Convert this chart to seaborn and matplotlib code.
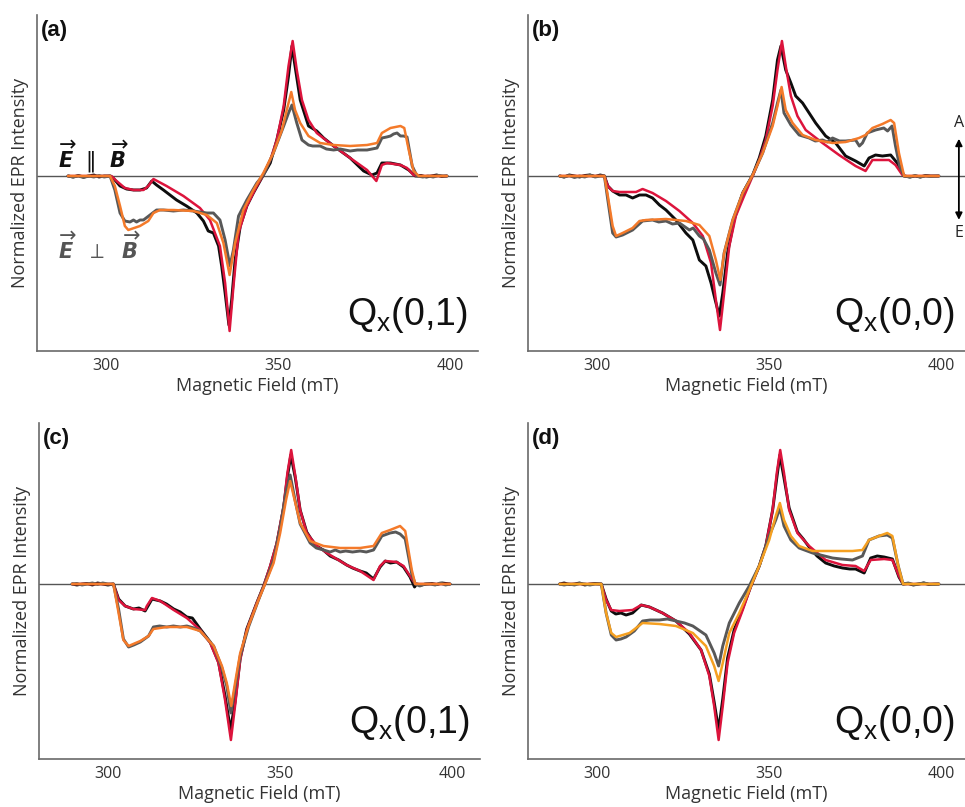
import numpy as np
import matplotlib
matplotlib.use('Agg')
import matplotlib.pyplot as plt
import seaborn as sns

sns.set_style('white')
plt.rcParams['font.family'] = ['Open Sans', 'DejaVu Sans']
plt.rcParams['mathtext.fontset'] = 'dejavusans'

# ---------------- data: (field mT, normalized intensity) ----------------
# Panel (a)  Qx(0,1)
a_exp_par = [(289.0,0.0),(290.5,-0.01),(292,0.005),(293.5,-0.01),(295,0.0),(296.5,0.01),(298,-0.01),(299.5,0.0),
             (301.2,0.0),(302.1,-0.02),(304.1,-0.10),(306.0,-0.13),(308.0,-0.14),(309.9,-0.14),(311.8,-0.12),(313.3,-0.05),
             (314.7,-0.09),(316.7,-0.14),(318.6,-0.19),(320.5,-0.24),(323.4,-0.30),(326.4,-0.37),(328.3,-0.45),(329.7,-0.55),
             (331.2,-0.57),(332.7,-0.70),(333.6,-0.90),(334.6,-1.17),(335.7,-1.49),(336.5,-1.24),(337.5,-0.84),(339.0,-0.50),
             (340.9,-0.30),(342.8,-0.17),(345.7,0.01),(347.7,0.13),(349.6,0.36),(351.6,0.66),(353.0,1.0),(354.0,1.30),
             (355.2,1.03),(356.4,0.76),(358.8,0.50),(361.2,0.45),(363.2,0.38),(366.1,0.30),(370.9,0.18),(374.8,0.05),
             (377.2,0.01),(378.7,0.03),(380.1,0.13),(382.6,0.13),(385.5,0.11),(387.9,0.06),(389.8,0.0),(391.5,0.005),
             (393,-0.01),(394.5,0.0),(396,0.01),(397.5,-0.005),(399,0.0)]
a_sim_par = [(289.0,0),(301.6,0),(303.1,-0.05),(305.5,-0.12),(308.0,-0.14),(310.9,-0.14),(312.3,-0.10),(313.8,-0.03),
             (317.6,-0.10),(322.5,-0.20),(327.3,-0.32),(330.2,-0.44),(333.1,-0.70),(334.6,-1.07),(335.9,-1.55),(337.0,-1.11),
             (338.5,-0.57),(340.9,-0.30),(343.8,-0.10),(345.7,0.01),(347.7,0.16),(349.6,0.36),(351.6,0.70),(353.0,1.10),
             (354.2,1.35),(355.4,1.06),(356.9,0.76),(358.8,0.56),(361.2,0.43),(366.1,0.30),(370.9,0.18),(375.8,0.06),
             (378.5,-0.05),(380.1,0.11),(381.6,0.13),(385.5,0.11),(387.4,0.08),(389.3,0.01),(390.3,0),(399.0,0)]
a_exp_perp = [(289.0,0),(290.5,-0.01),(292,0.0),(293.5,-0.015),(295,0.0),(296.5,-0.01),(298,0.005),(299.5,-0.01),
              (301.2,0.0),(302.6,-0.14),(304.1,-0.37),(305.5,-0.45),(307.0,-0.46),(308.0,-0.44),(308.9,-0.46),(309.9,-0.44),
              (310.9,-0.44),(312.8,-0.39),(314.7,-0.34),(316.7,-0.34),(319.6,-0.35),(322.5,-0.34),(325.4,-0.35),(327.3,-0.36),
              (329.3,-0.37),(331.2,-0.37),(333.1,-0.44),(334.6,-0.64),(336.0,-0.90),(337.0,-0.74),(338.5,-0.40),(340.9,-0.24),
              (343.8,-0.07),(345.7,0.01),(348.6,0.23),(351.6,0.50),(353.0,0.63),(354.0,0.71),(355.4,0.53),(356.9,0.36),
              (358.8,0.31),(360,0.30),(362.2,0.30),(364,0.27),(366.1,0.26),(368,0.27),(370.9,0.25),(373,0.26),(375.8,0.26),
              (378.7,0.28),(380.1,0.38),(381.5,0.39),(382.6,0.40),(383.5,0.42),(384.5,0.43),(385.5,0.40),(386.4,0.40),
              (387.4,0.39),(388.9,0.10),(390.3,0.0),(392,-0.01),(393.5,0.0),(395,-0.01),(396.5,0.005),(398,0.0),(399,0.0)]
a_sim_perp = [(289.0,0),(301.2,0),(302.6,-0.10),(304.1,-0.30),(305.5,-0.50),(306.5,-0.54),(309.9,-0.50),(312.3,-0.45),
              (313.8,-0.37),(315.7,-0.34),(319.6,-0.34),(325.4,-0.35),(329.3,-0.39),(332.2,-0.47),(334.1,-0.67),(335.9,-0.99),
              (337.5,-0.67),(339.9,-0.34),(342.8,-0.14),(345.7,0.03),(348.6,0.23),(351.1,0.46),(352.5,0.66),(353.8,0.84),
              (354.9,0.66),(356.4,0.53),(358.8,0.40),(362.2,0.33),(366.1,0.31),(370.9,0.30),(375.8,0.31),(378.7,0.33),
              (380.1,0.43),(382.6,0.48),(385.5,0.50),(386.6,0.48),(387.9,0.26),(389.3,0.05),(390.8,0),(399.0,0)]

# Panel (b)  Qx(0,0)
b_exp_par = [(289.2,0.0),(290.5,-0.01),(292,0.01),(293.5,0.0),(295,-0.01),(296.5,0.005),(298,0.01),(299.5,-0.005),
             (301,0.01),(302.2,0.0),(303.2,-0.10),(304.6,-0.15),(306.6,-0.19),(308.5,-0.19),(310.4,-0.22),(312.4,-0.19),
             (314.3,-0.19),(316.2,-0.22),(318.2,-0.29),(320.1,-0.34),(323.0,-0.44),(325.9,-0.57),(327.9,-0.64),(329.8,-0.84),
             (331.7,-0.90),(333.2,-1.07),(334.4,-1.24),(335.6,-1.40),(336.6,-1.17),(338.0,-0.77),(339.9,-0.44),(342.4,-0.17),
             (345.3,0.01),(347.2,0.18),(349.1,0.40),(351.1,0.76),(352.5,1.16),(353.5,1.30),(354.9,1.06),(356.4,0.93),
             (357.8,0.80),(359.8,0.73),(361.7,0.63),(363.6,0.53),(366.5,0.40),(369.4,0.33),(372.3,0.20),(375.2,0.15),
             (377.7,0.10),(379.1,0.18),(381.0,0.21),(383.0,0.20),(385.4,0.21),(387.3,0.13),(389.3,0.0),(391,-0.01),
             (392.5,0.0),(394,-0.01),(395.5,0.005),(397,0.0),(399.4,0.0)]
b_sim_par = [(289.2,0),(302.2,0),(303.2,-0.10),(304.6,-0.15),(306.6,-0.16),(311.4,-0.16),(313.3,-0.13),(316.2,-0.17),
             (320.1,-0.25),(324.0,-0.35),(327.9,-0.47),(330.8,-0.60),(333.2,-0.87),(334.6,-1.24),(335.8,-1.54),(337.0,-1.17),
             (338.5,-0.70),(340.4,-0.40),(342.8,-0.20),(345.3,0.0),(347.2,0.16),(349.1,0.36),(351.1,0.70),(352.5,1.06),
             (353.8,1.35),(354.9,1.10),(356.4,0.80),(358.3,0.60),(360.7,0.46),(365.6,0.33),(370.4,0.21),(375.2,0.10),
             (378.1,0.05),(380.1,0.16),(384.9,0.16),(386.8,0.11),(388.8,0.01),(389.7,0),(399.4,0)]
b_exp_perp = [(289.2,0.0),(290.5,-0.01),(292,0.005),(293.5,-0.015),(295,0.0),(296.5,-0.01),(298,0.01),(299.5,-0.01),
              (301,0.0),(302.2,0.0),(303.2,-0.24),(304.6,-0.57),(305.6,-0.61),(307.5,-0.59),(310.4,-0.54),(313.3,-0.45),
              (316.2,-0.44),(318,-0.46),(320.1,-0.45),(322,-0.48),(324.0,-0.47),(326.9,-0.54),(328,-0.52),(329.8,-0.60),
              (331,-0.63),(332.7,-0.74),(334.6,-0.97),(335.8,-1.09),(337.0,-0.77),(339.5,-0.44),(342.4,-0.17),(345.3,0.01),
              (348.2,0.23),(351.1,0.53),(352.5,0.73),(353.5,0.86),(354.4,0.63),(356.4,0.51),(358.8,0.41),(361.7,0.38),
              (363.5,0.35),(365.6,0.36),(367,0.34),(368.5,0.38),(370.5,0.35),(372.3,0.35),(375.2,0.36),(376.3,0.30),
              (377.2,0.33),(378.6,0.43),(381.0,0.46),(383.4,0.48),(384.5,0.45),(385.8,0.50),(386.8,0.30),(388.0,0.10),
              (389.3,0.0),(391,-0.01),(392.5,0.005),(394,-0.01),(395.5,0.0),(397,-0.005),(399.4,0.0)]
b_sim_perp = [(289.2,0),(302.2,0),(303.2,-0.20),(304.6,-0.50),(305.6,-0.60),(307.5,-0.57),(310.4,-0.52),(312.4,-0.45),
              (314.3,-0.44),(320.1,-0.43),(325.9,-0.45),(329.8,-0.49),(332.7,-0.60),(334.6,-0.84),(335.9,-1.04),(337.0,-0.77),
              (339.5,-0.44),(342.4,-0.17),(345.3,0.01),(348.2,0.23),(351.1,0.50),(352.5,0.70),(353.7,0.89),(354.9,0.66),
              (356.9,0.53),(359.8,0.41),(363.6,0.36),(368.5,0.33),(372.3,0.34),(376.2,0.38),(378.1,0.41),(380.1,0.48),
              (383.0,0.52),(385.4,0.56),(386.4,0.53),(387.8,0.23),(389.3,0.0),(399.4,0.0)]

# Panel (c)  Qx(0,1)
c_exp_par = [(289.6,0.0),(291,-0.01),(292.5,0.0),(294,0.005),(295.5,-0.01),(297,0.01),(298.5,0.0),(300,-0.01),
             (301.6,0.0),(303.1,-0.15),(305.0,-0.22),(307.4,-0.25),(309,-0.24),(310.8,-0.27),(312.8,-0.15),(315.2,-0.17),
             (317,-0.20),(319.1,-0.25),(321,-0.28),(322.9,-0.33),(324.5,-0.34),(326.8,-0.45),(329.7,-0.58),(332.1,-0.78),
             (334.0,-1.12),(335.6,-1.46),(336.9,-1.18),(338.4,-0.74),(340.3,-0.45),(343.2,-0.19),(345.2,-0.02),(347.1,0.17),
             (349.0,0.40),(351.0,0.76),(352.1,1.07),(353.1,1.29),(354.4,1.06),(355.8,0.74),(357.7,0.52),(359,0.45),
             (360.6,0.38),(362.5,0.34),(364.5,0.28),(367,0.24),(369.3,0.19),(371,0.16),(373.2,0.13),(375,0.11),(377.1,0.05),
             (379.0,0.17),(380.5,0.23),(382,0.21),(383.8,0.22),(385.8,0.17),(387.7,0.07),(389.0,-0.03),(389.6,0.0),
             (391,-0.01),(392.5,0.0),(394,0.005),(395.5,-0.005),(397,0.01),(399.3,0.0)]
c_sim_par = [(289.6,0),(301.6,0),(303.1,-0.16),(305.0,-0.22),(307.4,-0.25),(310.8,-0.26),(311.3,-0.22),(312.8,-0.14),
             (315.2,-0.17),(319.1,-0.26),(322.9,-0.34),(326.8,-0.46),(329.7,-0.59),(332.1,-0.79),(334.0,-1.16),(335.7,-1.56),
             (336.9,-1.22),(338.4,-0.76),(340.3,-0.46),(343.2,-0.19),(345.2,-0.02),(347.1,0.18),(349.0,0.41),(351.0,0.78),
             (352.1,1.11),(353.2,1.34),(354.4,1.08),(355.8,0.74),(357.7,0.51),(360.6,0.38),(364.5,0.29),(369.3,0.19),
             (373.2,0.13),(377.1,0.04),(379.0,0.18),(380.5,0.23),(383.8,0.22),(385.8,0.18),(387.7,0.08),(389.2,0.0),(399.3,0.0)]
c_exp_perp = [(289.6,0.0),(291,0.005),(292.5,-0.01),(294,0.0),(295.5,0.01),(297,-0.005),(298.5,0.01),(300,0.0),
              (301.6,0.0),(303.1,-0.25),(304.5,-0.55),(306.0,-0.63),(307.5,-0.61),(309.4,-0.58),(311.8,-0.52),(313.2,-0.43),
              (315,-0.42),(317.1,-0.43),(319,-0.42),(321,-0.43),(322.9,-0.42),(325,-0.44),(326.8,-0.47),(330.7,-0.62),
              (333.1,-0.84),(334.5,-1.02),(335.7,-1.29),(336.9,-1.04),(338.4,-0.72),(340.8,-0.43),(343.7,-0.16),(346.1,0.05),
              (348.1,0.24),(350.0,0.56),(351.7,0.92),(352.9,1.09),(354.2,0.86),(355.8,0.60),(358.7,0.41),(360.5,0.36),
              (362.6,0.34),(364.5,0.32),(366,0.34),(367.4,0.32),(369,0.33),(371,0.32),(373.2,0.33),(375,0.32),(377.1,0.34),
              (379.5,0.48),(381.9,0.51),(383.5,0.52),(384.8,0.50),(386.3,0.45),(388.2,0.10),(389.2,0.0),(390.5,-0.02),
              (392,0.0),(393.5,0.0),(395,-0.01),(396.5,0.01),(398,-0.01),(399.3,0.0)]
c_sim_perp = [(289.6,0),(301.6,0),(303.1,-0.29),(304.5,-0.56),(306.0,-0.62),(309.4,-0.57),(311.8,-0.52),(313.2,-0.45),
              (317.1,-0.43),(322.9,-0.43),(326.8,-0.47),(330.7,-0.62),(333.1,-0.82),(334.5,-0.99),(335.8,-1.22),(336.9,-0.99),
              (338.4,-0.69),(340.8,-0.42),(343.7,-0.16),(346.1,0.04),(348.1,0.21),(350.0,0.51),(351.7,0.84),(352.9,1.03),
              (354.2,0.84),(355.8,0.61),(358.7,0.43),(362.6,0.38),(367.4,0.36),(373.2,0.36),(377.1,0.38),(379.5,0.51),
              (381.9,0.54),(384.8,0.58),(386.3,0.53),(388.2,0.14),(389.2,0.0),(399.3,0.0)]

# Panel (d)  Qx(0,0)
d_exp_par = [(289.2,0.0),(290.5,0.01),(292,-0.005),(293.5,0.0),(295,0.01),(296.5,-0.01),(298,0.0),(299.5,0.005),
             (301.3,0.0),(302.7,-0.15),(304.2,-0.27),(305.5,-0.30),(307,-0.29),(308.5,-0.31),(310.4,-0.29),(312.9,-0.21),
             (315.3,-0.23),(319.1,-0.29),(323.0,-0.37),(326.9,-0.50),(330.3,-0.66),(332.7,-0.90),(334.1,-1.18),(335.4,-1.46),
             (336.6,-1.15),(338.0,-0.74),(339.9,-0.46),(342.4,-0.24),(344.8,-0.02),(347.2,0.18),(349.1,0.38),(351.1,0.74),
             (352.3,1.06),(353.2,1.29),(354.4,1.06),(355.9,0.76),(358.3,0.52),(360,0.45),(361.7,0.37),(364,0.28),(366.5,0.21),
             (369,0.18),(371.4,0.16),(373.5,0.15),(375.2,0.15),(377.7,0.11),(379.6,0.26),(381.5,0.28),(383.5,0.27),
             (385.9,0.25),(387.8,0.07),(389.0,0.0),(390.5,0.005),(392,-0.01),(393.5,0.0),(395,0.01),(396.5,-0.005),
             (398,0.0),(399.4,0.0)]
d_sim_par = [(289.2,0),(301.3,0),(302.7,-0.16),(304.2,-0.26),(306.6,-0.27),(310.4,-0.26),(312.9,-0.21),(315.3,-0.23),
             (319.1,-0.29),(323.0,-0.37),(326.9,-0.49),(330.3,-0.66),(332.7,-0.92),(334.1,-1.22),(335.4,-1.56),(336.6,-1.22),
             (338.0,-0.79),(339.9,-0.49),(342.4,-0.26),(344.8,-0.02),(347.2,0.18),(349.1,0.38),(351.1,0.74),(352.3,1.11),
             (353.3,1.34),(354.4,1.11),(355.9,0.74),(358.3,0.51),(361.7,0.38),(366.5,0.24),(371.4,0.19),(375.2,0.18),
             (377.7,0.13),(379.6,0.24),(383.5,0.25),(385.9,0.24),(387.8,0.08),(389.0,0.0),(399.4,0.0)]
d_exp_perp = [(289.2,0.0),(290.5,-0.01),(292,0.0),(293.5,-0.01),(295,0.005),(296.5,0.0),(298,-0.01),(299.5,0.0),
              (301.3,0.0),(302.7,-0.29),(304.2,-0.51),(305.6,-0.56),(307,-0.55),(308.5,-0.53),(310.9,-0.47),(313.3,-0.37),
              (315.5,-0.36),(318.2,-0.36),(320.5,-0.35),(323.0,-0.37),(325.5,-0.39),(327.9,-0.42),(331.7,-0.51),(334.1,-0.69),
              (335.4,-0.82),(336.6,-0.62),(338.5,-0.39),(341.4,-0.19),(344.3,-0.02),(347.2,0.18),(350.1,0.48),(352.0,0.64),
              (353.2,0.76),(354.4,0.58),(356.4,0.44),(358.8,0.36),(362.7,0.31),(365,0.29),(368.5,0.26),(371,0.25),
              (374.3,0.24),(377.2,0.28),(379.1,0.44),(382.0,0.48),(384.4,0.49),(385.9,0.46),(387.6,0.18),(389.0,0.0),
              (390.5,0.01),(392,-0.005),(393.5,0.0),(395,0.01),(396.5,0.0),(398,-0.005),(399.4,0.0)]
d_sim_perp = [(289.2,0),(301.3,0),(302.7,-0.29),(304.2,-0.49),(305.6,-0.53),(309.5,-0.49),(311.4,-0.44),(313.3,-0.39),
              (318.2,-0.40),(323.0,-0.42),(327.9,-0.49),(331.7,-0.62),(334.1,-0.82),(335.4,-0.97),(336.6,-0.79),(338.5,-0.49),
              (341.4,-0.29),(344.3,-0.06),(347.2,0.18),(350.1,0.44),(352.0,0.68),(353.2,0.81),(354.4,0.64),(356.4,0.48),
              (358.8,0.38),(362.7,0.33),(368.5,0.33),(374.3,0.33),(377.2,0.34),(379.1,0.44),(382.0,0.48),(384.4,0.51),
              (385.9,0.48),(387.6,0.18),(389.0,0.0),(399.4,0.0)]

panel_letters = ['(a)', '(b)', '(c)', '(d)']
panel_states = [r'Q$_\mathregular{x}$(0,1)', r'Q$_\mathregular{x}$(0,0)',
                r'Q$_\mathregular{x}$(0,1)', r'Q$_\mathregular{x}$(0,0)']
x_ticks = [300, 350, 400]

# ---------------- styling ----------------
C_EXP_PAR = '#0d0d0d'
C_SIM_PAR = '#dc143c'
C_EXP_PERP = '#585858'
C_SIM_PERP = ['#f47a2a', '#f47a2a', '#f47a2a', '#f5a021']
AX_COL = '#6a6a6a'
ARIAL = ['Liberation Sans', 'DejaVu Sans']

W, H = 965, 807
fig = plt.figure(figsize=(W / 100, H / 100), dpi=100)
boxes = [(37, 15, 478, 351), (528, 15, 965, 351), (39, 423, 480, 759), (528, 423, 965, 759)]
xlims = [(280, 408), (280, 407), (280, 408), (280, 407)]

panels = [(a_exp_par, a_sim_par, a_exp_perp, a_sim_perp),
          (b_exp_par, b_sim_par, b_exp_perp, b_sim_perp),
          (c_exp_par, c_sim_par, c_exp_perp, c_sim_perp),
          (d_exp_par, d_sim_par, d_exp_perp, d_sim_perp)]

axes = []
for i, (box, series) in enumerate(zip(boxes, panels)):
    l, t, r, b = box
    ax = fig.add_axes([l / W, 1 - b / H, (r - l) / W, (b - t) / H])
    axes.append(ax)
    ax.axhline(0, color='#555555', lw=1.0, zorder=1)
    exp_par, sim_par, exp_perp, sim_perp = series
    styles = [(exp_par, C_EXP_PAR, 2.1, 2), (sim_par, C_SIM_PAR, 1.8, 3),
              (exp_perp, C_EXP_PERP, 2.1, 4), (sim_perp, C_SIM_PERP[i], 1.8, 5)]
    for data, col, lw, z in styles:
        arr = np.array(data, dtype=float)
        sns.lineplot(x=arr[:, 0], y=arr[:, 1], ax=ax, color=col, lw=lw,
                     sort=False, estimator=None, zorder=z)
    ax.set_xlim(*xlims[i])
    ax.set_ylim(-1.75, 1.61)
    ax.set_xticks(x_ticks)
    ax.set_yticks([])
    ax.tick_params(axis='x', direction='in', length=3, width=1, color=AX_COL,
                   labelsize=11.5, labelcolor='#333333', pad=5)
    for s in ['top', 'right']:
        ax.spines[s].set_visible(False)
    for s in ['left', 'bottom']:
        ax.spines[s].set_color(AX_COL)
        ax.spines[s].set_linewidth(1.2)
    ax.set_xlabel('Magnetic Field (mT)', fontsize=13, color='#333333', labelpad=2)
    ax.set_ylabel('Normalized EPR Intensity', fontsize=13, color='#333333', labelpad=6)
    ax.text(0.008, 0.985, panel_letters[i], transform=ax.transAxes, fontsize=16,
            fontweight='bold', va='top', ha='left', color='#111111', family=ARIAL)
    ax.text(0.977, 0.077, panel_states[i], transform=ax.transAxes, fontsize=27,
            ha='right', va='baseline', color='#111111', family=ARIAL)

# polarization labels in (a)
axa = axes[0]
axa.text(0.048, 0.577, r'$\overrightarrow{\mathbfit{E}}\ \ \Vert\ \ \overrightarrow{\mathbfit{B}}$',
         transform=axa.transAxes, fontsize=15, color='#111111', ha='left', va='center')
axa.text(0.048, 0.307, r'$\overrightarrow{\mathbfit{E}}\ \ \perp\ \ \overrightarrow{\mathbfit{B}}$',
         transform=axa.transAxes, fontsize=15, color='#555555', ha='left', va='center')

# absorption / emission arrow in (b)
axb = axes[1]
axb.annotate('', xy=(0.986, 0.640), xytext=(0.986, 0.382), xycoords='axes fraction',
             textcoords='axes fraction',
             arrowprops=dict(arrowstyle='<|-|>', color='black', lw=1.3, mutation_scale=10))
axb.text(0.986, 0.68, 'A', transform=axb.transAxes, fontsize=11.5, ha='center', va='center', color='#222222')
axb.text(0.986, 0.35, 'E', transform=axb.transAxes, fontsize=11.5, ha='center', va='center', color='#222222')

fig.savefig('out.png', dpi=100)
